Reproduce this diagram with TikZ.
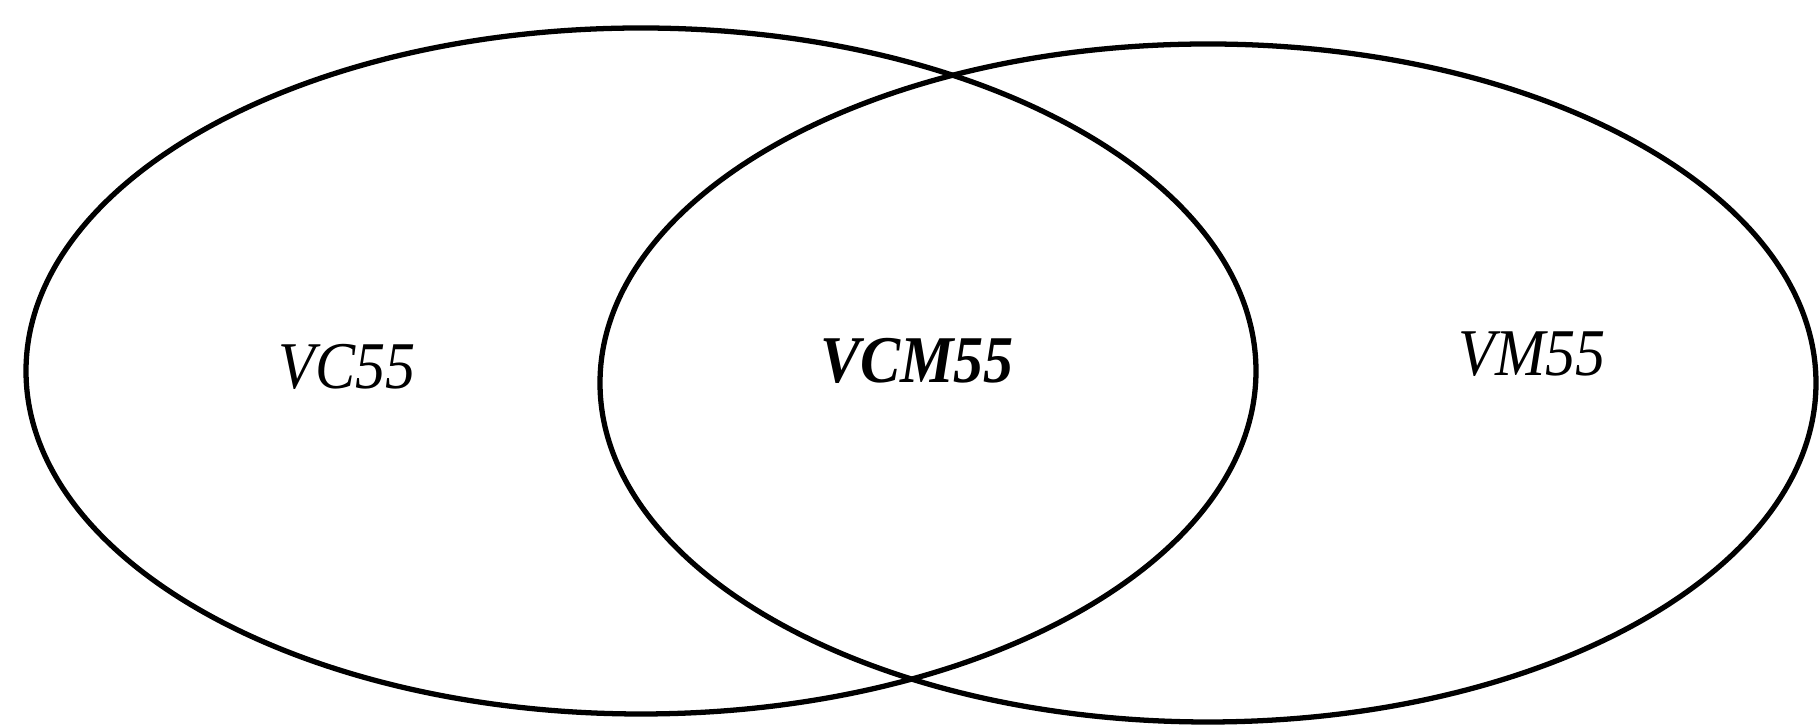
\documentclass[tikz,border=0pt]{standalone}
\usepackage{fontspec}
\setmainfont{Liberation Serif}
\usetikzlibrary{shapes.geometric}

\tikzset{
    set/.style={draw, ellipse, line width=1.5pt, inner sep=0pt, outer sep=0pt},
    setlabel/.style={font=\fontsize{19}{21}\selectfont\itshape, inner sep=0pt, xscale=0.9},
}

\begin{document}
\begin{tikzpicture}
                    \useasboundingbox (0,0) rectangle (18.2,7.25);
                    \node [set, minimum width=12.3cm, minimum height=6.86cm] (vc) at (6.41,3.54) {};
                    \node [set, minimum width=12.16cm, minimum height=6.78cm] (vm) at (12.08,3.42) {};

                    \node [setlabel] (lvc) at (3.47,3.58) {VC55};
                    \node [setlabel, font=\fontsize{19}{21}\selectfont\bfseries\itshape] (lvcm) at (9.17,3.64) {VCM55};
                    \node [setlabel] (lvm) at (15.32,3.71) {VM55};
                \end{tikzpicture}
\end{document}
